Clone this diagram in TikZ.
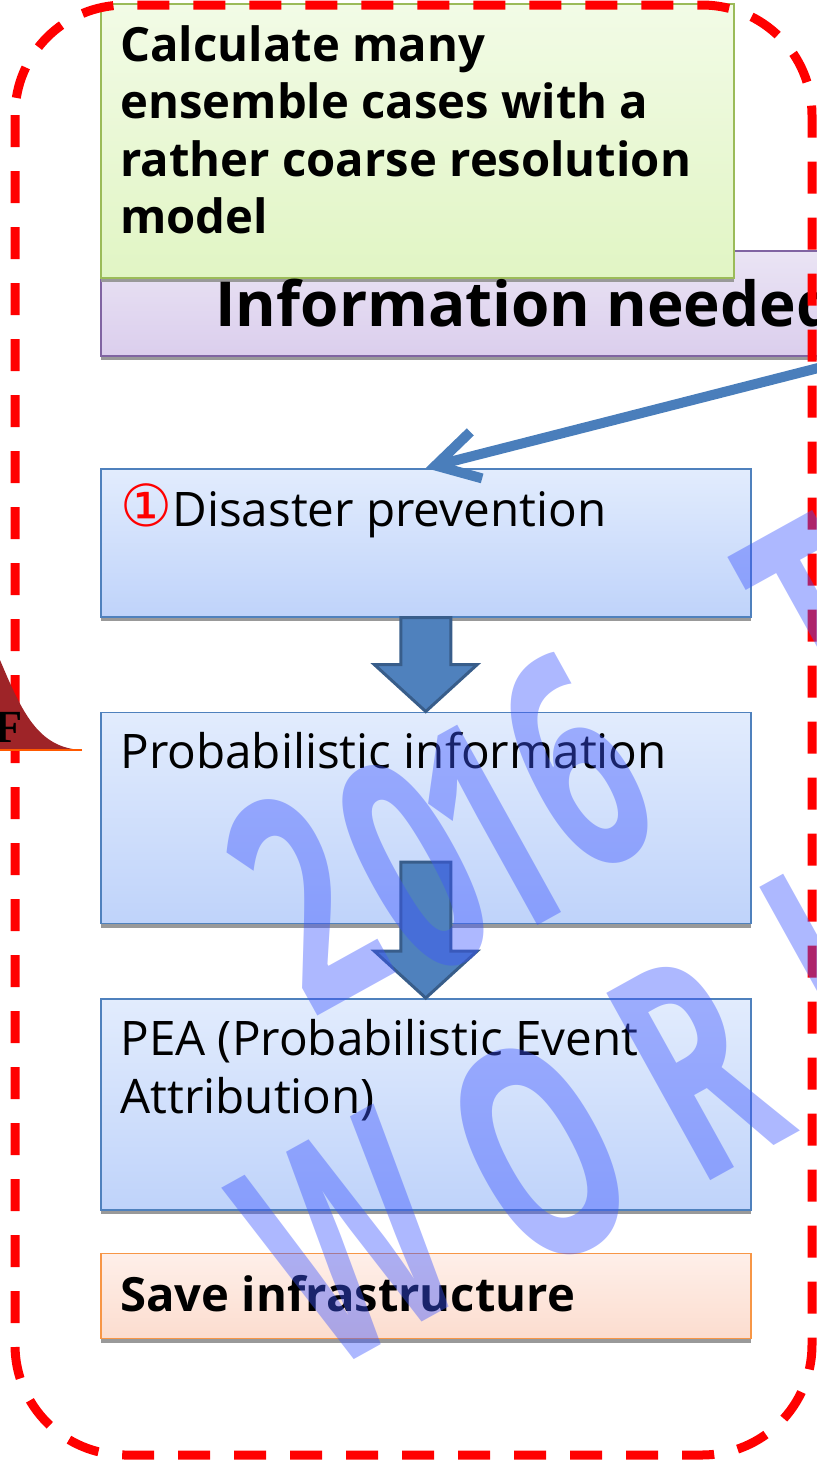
\documentclass[tikz,border=0pt]{standalone}
\usepackage{fontspec}
\setmainfont{Open Sans}
\newfontfamily\circfont{DejaVu Sans}
\newfontfamily\pdffont{Liberation Serif}
\usetikzlibrary{arrows.meta,positioning,calc,shadows}

\definecolor{hdrline}{RGB}{128,100,162}
\definecolor{hdrtop}{RGB}{234,228,244}
\definecolor{hdrbot}{RGB}{219,206,237}
\definecolor{notegreen}{RGB}{155,187,89}
\definecolor{notetop}{RGB}{242,251,230}
\definecolor{notebot}{RGB}{225,245,196}
\definecolor{stageline}{RGB}{79,129,189}
\definecolor{stagetop}{RGB}{226,236,253}
\definecolor{stagebot}{RGB}{191,211,250}
\definecolor{goalline}{RGB}{247,150,70}
\definecolor{goaltop}{RGB}{254,239,233}
\definecolor{goalbot}{RGB}{252,221,207}
\definecolor{arrowblue}{RGB}{79,129,189}
\definecolor{arrowedge}{RGB}{56,93,138}
\definecolor{linkblue}{RGB}{74,126,187}
\definecolor{framered}{RGB}{255,0,0}
\definecolor{pdfred}{RGB}{158,36,40}
\definecolor{stampblue}{RGB}{60,85,255}

\tikzset{
  card/.style  ={draw,line width=0.75pt,inner sep=0pt,
                 drop shadow={shadow xshift=0pt,shadow yshift=-2.2pt,
                              fill=black!40,opacity=1}},
  stage/.style ={card,draw=stageline,top color=stagetop,bottom color=stagebot,
                 minimum width=325pt},
  note/.style  ={card,draw=notegreen,top color=notetop,bottom color=notebot,
                 anchor=north west},
  header/.style={card,draw=hdrline,line width=1pt,top color=hdrtop,
                 bottom color=hdrbot,anchor=north west},
  goal/.style  ={card,draw=goalline,top color=goaltop,bottom color=goalbot,
                 minimum width=325pt},
  txt/.style   ={inner sep=0pt,anchor=base west,align=left,
                 font=\fontsize{23.8}{29}\selectfont},
  btxt/.style  ={txt,font=\fontsize{23.6}{28.75}\selectfont\bfseries},
  blk/.style   ={fill=arrowblue,draw=arrowedge,line width=1.5pt,line join=miter},
  link/.style  ={draw=linkblue,line width=5pt,
                 -{Straight Barb[length=21pt,width=24pt]}},
  frame/.style ={draw=framered,line width=4.5pt,dash pattern=on 16pt off 12pt,
                 rounded corners=55pt},
  stamp/.style ={text=stampblue,text opacity=0.42,inner sep=0pt,
                 font=\fontsize{150}{150}\selectfont\bfseries,
                 rotate=29,xscale=0.6},
}
% block arrow pointing down: shaft from #1, tip on the level of #2
\newcommand{\blockdown}[2]{%
  \draw[blk] ($(#1)+(-25,0)$) -- ($(#1)+(25,0)$) -- ($(#1 |- #2)+(25,-47)$)
    -- ($(#1 |- #2)+(51.5,-47)$) -- (#1 |- #2) -- ($(#1 |- #2)+(-51.5,-47)$)
    -- ($(#1 |- #2)+(-25,-47)$) -- cycle;}

\begin{document}
\begin{tikzpicture}[x=0.5pt,y=-0.5pt,node distance=47pt]
\useasboundingbox (0,0) rectangle (817,1468);

% boxes
\node[header,minimum width=380pt,minimum height=52.5pt] (hdr) at (100,250) {};
\node[note,minimum width=316.5pt,minimum height=137pt] (calc) at (100,3) {};
\node[stage,minimum height=74pt,anchor=north west] (dis) at (100,468) {};
\node[stage,minimum height=105.5pt,below=of dis] (prob) {};
\node[stage,minimum height=105.5pt,below=37pt of prob] (pea) {};
\node[goal,minimum height=42.5pt,below=21pt of pea] (save) {};

% texts
\node[btxt,anchor=north west] (calctxt) at ([shift={(20,22)}]calc.north west)
  {Calculate many\\ensemble cases with a\\rather coarse resolution\\model};
\node[btxt,font=\fontsize{31}{38}\selectfont\bfseries] (hdrtxt)
  at ([shift={(115,76)}]hdr.north west) {Information needed};
\node[txt] (distxt) at ([shift={(20,58)}]dis.north west)
  {{\circfont\fontsize{29}{29}\selectfont\color{red}①}Disaster prevention};
\node[txt] (probtxt) at ([shift={(20,57)}]prob.north west)
  {Probabilistic information};
\node[txt,anchor=north west] (peatxt) at ([shift={(20,21)}]pea.north west)
  {PEA (Probabilistic Event\\Attribution)};
\node[btxt,font=\fontsize{23.6}{29}\selectfont\bfseries] (savetxt)
  at ([shift={(20,59)}]save.north west) {Save infrastructure};

% arrows
\blockdown{dis.south}{prob.north}
\coordinate (a2top) at ($(prob.south)+(0,-62)$);
\blockdown{a2top}{pea.north}
\coordinate (src) at (830,365);
\draw[link] (src) -- (dis.north);

% dashed frame
\draw[frame] (15,5) rectangle (812,1455);

% pdf tail on the left
\fill[pdfred] (0,660) .. controls (22,712) and (38,748) .. (82,750) -- (0,750) -- cycle;
\draw[orange!70!red,line width=0.8pt] (0,750) -- (82,750);
\node[inner sep=0pt,anchor=base east,font=\fontsize{23}{23}\pdffont\bfseries]
  (pdflbl) at (23,742) {F};

% stamp letters
\foreach \ch/\cx/\cy in {2/304/900,0/413/866,1/490/830,6/575/764,T/822/628,
                         W/350/1240,O/540/1152,R/697/1066,K/850/960}
  \node[stamp] (stamp-\ch) at (\cx,\cy) {\ch};
\end{tikzpicture}
\end{document}
